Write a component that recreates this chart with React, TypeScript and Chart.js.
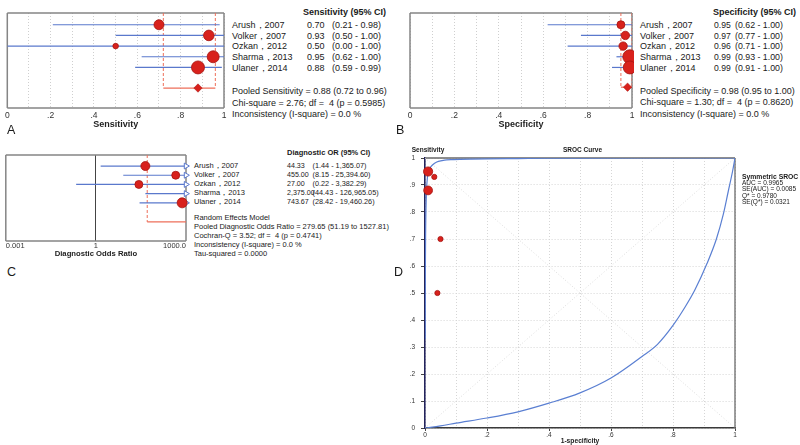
import React, { useEffect, useRef } from "react";
import { Chart, registerables } from "chart.js";
Chart.register(...registerables);

const FONT = "'Liberation Sans', Arial, Helvetica, sans-serif";
Chart.defaults.font.family = FONT;
Chart.defaults.color = "#333";

// ---------------- data ----------------
const studies = ["Arush，2007", "Volker，2007", "Ozkan，2012", "Sharma，2013", "Ulaner，2014"];
const rowPos = [1, 2, 3, 4, 5];

const sensEst = [0.7, 0.93, 0.5, 0.95, 0.88];
const sensLo = [0.21, 0.5, 0.0, 0.62, 0.59];
const sensHi = [0.98, 1.0, 1.0, 1.0, 0.99];
const sensWeightR = [5, 5.3, 2.8, 6, 6.5];
const sensPooled = [0.88, 0.72, 0.96];
const sensStats = [
  "Pooled Sensitivity = 0.88 (0.72 to 0.96)",
  "Chi-square = 2.76; df =  4 (p = 0.5985)",
  "Inconsistency (I-square) = 0.0 %",
];

const specEst = [0.95, 0.97, 0.96, 0.99, 0.99];
const specLo = [0.62, 0.77, 0.71, 0.93, 0.91];
const specHi = [1.0, 1.0, 1.0, 1.0, 1.0];
const specWeightR = [4, 4.2, 4.2, 7, 6.5];
const specPooled = [0.98, 0.95, 1.0];
const specStats = [
  "Pooled Specificity = 0.98 (0.95 to 1.00)",
  "Chi-square = 1.30; df =  4 (p = 0.8620)",
  "Inconsistency (I-square) = 0.0 %",
];

const dorEst = [44.33, 455.0, 27.0, 2375.0, 743.67];
const dorLo = [1.44, 8.15, 0.22, 44.43, 28.42];
const dorHi = [1365.07, 25394.6, 3382.29, 126965.05, 19460.26];
const dorWeightR = [4.5, 4, 4, 4, 5];
const dorPooled = [279.65, 51.19, 1527.81];
const dorStats = [
  "Random Effects Model",
  "Pooled Diagnostic Odds Ratio = 279.65 (51.19 to 1527.81)",
  "Cochran-Q = 3.52; df =  4 (p = 0.4741)",
  "Inconsistency (I-square) = 0.0 %",
  "Tau-squared = 0.0000",
];

const srocPointR = [2.6, 2.6, 2.6, 4.6, 4.4];
const srocUpperX = [0.0005, 0.001, 0.002, 0.004, 0.008, 0.016, 0.025, 0.038, 0.055, 0.07, 0.09, 0.113, 0.15, 0.2, 0.3, 0.4, 0.5, 0.7, 1.0];
const srocUpperY = [0.33, 0.55, 0.72, 0.85, 0.93, 0.962, 0.975, 0.985, 0.99, 0.993, 0.994, 0.995, 0.996, 0.997, 0.998, 0.999, 0.9995, 1, 1];
const srocLowerX = [0, 0.05, 0.1, 0.2, 0.3, 0.4, 0.5, 0.6, 0.7, 0.75, 0.8, 0.84, 0.87, 0.91, 0.94, 0.962, 0.978, 0.992, 1];
const srocLowerY = [0, 0.008, 0.018, 0.037, 0.06, 0.092, 0.13, 0.185, 0.265, 0.31, 0.38, 0.45, 0.51, 0.61, 0.7, 0.79, 0.875, 0.95, 1];
const srocStats = ["AUC = 0.9965", "SE(AUC) = 0.0085", "Q* = 0.9780", "SE(Q*) = 0.0321"];

// tick labels
const unitGrid = [0, 0.1, 0.2, 0.3, 0.4, 0.5, 0.6, 0.7, 0.8, 0.9, 1];
const forestTickValues = [0, 0.2, 0.4, 0.6, 0.8, 1];
const forestTickLabels = ["0", ".2", ".4", ".6", ".8", "1"];
const dorTickValues = [0.001, 1, 1000];
const dorTickLabels = ["0.001", "1", "1000.0"];
const srocYTickLabels = ["0", ".1", ".2", ".3", ".4", ".5", ".6", ".7", ".8", ".9", "1"];

// ---------------- styles ----------------
const BLUE = "#5a78cc";
const RED = "#d8211c";
const RED_EDGE = "#a51410";
const POOL = "#ee6f5a";
const FRAME = "#858585";
const CURVE = "#5a7fd2";

function labelFor(v: number, values: number[], labels: string[]) {
  for (let i = 0; i < values.length; i++) {
    if (Math.abs(v - values[i]) < 1e-6 * Math.max(1, Math.abs(values[i]))) return labels[i];
  }
  return "";
}

function framePlugin(sides: string, color: string, width: number) {
  return {
    id: "frame" + sides,
    beforeDatasetsDraw(chart: any) {
      const { left, right, top, bottom } = chart.chartArea;
      const ctx = chart.ctx;
      ctx.save();
      ctx.strokeStyle = color;
      ctx.lineWidth = width;
      ctx.beginPath();
      if (sides.includes("t")) { ctx.moveTo(left, top); ctx.lineTo(right, top); }
      if (sides.includes("r")) { ctx.moveTo(right, top); ctx.lineTo(right, bottom); }
      if (sides.includes("b")) { ctx.moveTo(right, bottom); ctx.lineTo(left, bottom); }
      if (sides.includes("l")) { ctx.moveTo(left, bottom); ctx.lineTo(left, top); }
      ctx.stroke();
      ctx.restore();
    },
  };
}

function forestConfig(p: any): any {
  const [yMin, yMax] = p.yRange;
  const datasets: any[] = [];
  datasets.push({
    data: p.est.map((v: number, i: number) => ({ x: v, y: rowPos[i] })),
    pointRadius: p.r, backgroundColor: RED, borderColor: RED_EDGE, borderWidth: 0.8,
    order: 0, clip: { left: 10, top: 10, bottom: 10, right: 2 },
  });
  if (p.diamond) {
    datasets.push({
      data: [{ x: p.pooled[0], y: p.pooledRow }], pointStyle: "rectRot", pointRadius: p.diamondR,
      backgroundColor: RED, borderColor: RED_EDGE, borderWidth: 0.5, order: 0,
    });
  }
  if (p.arrows) {
    datasets.push({
      data: p.hi.map((h: number, i: number) => (h > p.xMax ? { x: p.xMax, y: rowPos[i] } : null)).filter(Boolean),
      pointStyle: "triangle", rotation: 90, pointRadius: 3.4, backgroundColor: "#ffffff",
      borderColor: BLUE, borderWidth: 1, order: 1, clip: false,
    });
  }
  p.lo.forEach((lo: number, i: number) =>
    datasets.push({
      data: [{ x: lo, y: rowPos[i] }, { x: p.hi[i], y: rowPos[i] }], showLine: true,
      borderColor: BLUE, borderWidth: 1.2, pointRadius: 0, order: 2, clip: 0,
    })
  );
  [p.pooled[1], p.pooled[2]].forEach((v: number) =>
    datasets.push({
      data: [{ x: v, y: yMin }, { x: v, y: p.pooledRow }], showLine: true,
      borderColor: POOL, borderWidth: 1, borderDash: [3, 2], pointRadius: 0, order: 3, clip: 0,
    })
  );
  datasets.push({
    data: [{ x: p.pooled[1], y: p.pooledRow }, { x: p.pooled[2], y: p.pooledRow }], showLine: true,
    borderColor: POOL, borderWidth: 1.2, pointRadius: 0, order: 3, clip: 0,
  });
  return {
    type: "scatter",
    data: { datasets },
    options: {
      animation: false, responsive: false, maintainAspectRatio: false, events: [],
      layout: { padding: p.padding },
      plugins: { legend: { display: false }, tooltip: { enabled: false } },
      scales: {
        x: {
          type: p.xType, min: p.xMin, max: p.xMax,
          afterBuildTicks: (s: any) => { s.ticks = p.gridValues.map((v: number) => ({ value: v })); },
          afterFit: (s: any) => { s.height = p.axisH; },
          ticks: {
            autoSkip: false, maxRotation: 0, minRotation: 0, padding: p.tickPad, align: p.align || "center",
            font: { size: p.tickSize }, color: "#333",
            callback: (v: any) => labelFor(Number(v), p.tickValues, p.tickLabels),
          },
          grid: { drawTicks: false, color: p.gridColor, lineWidth: 1 },
          border: { display: false, dash: p.gridDash },
          title: {
            display: true, text: p.title, color: "#222",
            font: { size: p.titleSize, weight: "bold" }, padding: { top: 0, bottom: p.titlePad },
          },
        },
        y: { type: "linear", min: yMin, max: yMax, reverse: true, display: false },
      },
    },
    plugins: [framePlugin("trbl", FRAME, 1.5)],
  };
}

function srocConfig(): any {
  const pts = sensEst.map((s, i) => ({ x: +(1 - specEst[i]).toFixed(2), y: s }));
  const xLabels = forestTickLabels;
  return {
    type: "scatter",
    data: {
      datasets: [
        { data: pts, pointRadius: srocPointR, backgroundColor: RED, borderColor: RED_EDGE, borderWidth: 0.8, order: 0, clip: 8 },
        {
          data: srocUpperX.map((x, i) => ({ x, y: srocUpperY[i] })), showLine: true, cubicInterpolationMode: "monotone",
          borderColor: CURVE, borderWidth: 1.2, pointRadius: 0, order: 1,
        },
        {
          data: srocLowerX.map((x, i) => ({ x, y: srocLowerY[i] })), showLine: true, cubicInterpolationMode: "monotone",
          borderColor: CURVE, borderWidth: 1.2, pointRadius: 0, order: 1,
        },
        { data: [{ x: 0, y: 0 }, { x: 1, y: 1 }], showLine: true, borderColor: "#dcdcdc", borderDash: [1, 2], borderWidth: 1, pointRadius: 0, order: 2 },
        { data: [{ x: 0, y: 1 }, { x: 1, y: 0 }], showLine: true, borderColor: "#dcdcdc", borderDash: [1, 2], borderWidth: 1, pointRadius: 0, order: 2 },
      ],
    },
    options: {
      animation: false, responsive: false, maintainAspectRatio: false, events: [],
      layout: { padding: { left: 0, top: 18, right: 65, bottom: 0 } },
      plugins: { legend: { display: false }, tooltip: { enabled: false } },
      scales: {
        x: {
          type: "linear", min: 0, max: 1,
          afterBuildTicks: (s: any) => { s.ticks = unitGrid.map((v) => ({ value: v })); },
          afterFit: (s: any) => { s.height = 17; },
          ticks: {
            autoSkip: false, maxRotation: 0, minRotation: 0, padding: 0, font: { size: 6.5 }, color: "#333",
            callback: (v: any) => labelFor(Number(v), forestTickValues, xLabels),
          },
          grid: {
            color: "#d6d6d6", lineWidth: 1, tickLength: 3,
            tickColor: (c: any) => (c.tick && labelFor(c.tick.value, forestTickValues, xLabels) ? "#444" : "rgba(0,0,0,0)"),
          },
          border: { display: true, color: "#3a3a3a", width: 1.5, dash: [1, 2] },
          title: { display: true, text: "1-specificity", color: "#222", font: { size: 6.7, weight: "bold" }, padding: 0 },
        },
        y: {
          type: "linear", min: 0, max: 1,
          afterBuildTicks: (s: any) => { s.ticks = unitGrid.map((v) => ({ value: v })); },
          afterFit: (s: any) => { s.width = 25; },
          ticks: {
            autoSkip: false, padding: 6, font: { size: 6.5 }, color: "#333",
            callback: (v: any) => labelFor(Number(v), unitGrid, srocYTickLabels),
          },
          grid: { color: "#d6d6d6", lineWidth: 1, tickLength: 4, tickColor: "#444" },
          border: { display: true, color: "#23235c", width: 1.6, dash: [1, 2] },
        },
      },
    },
    plugins: [framePlugin("tr", "#6a6a6a", 1.3)],
  };
}

function ChartCanvas({ left, top, width, height, make }: any) {
  const ref = useRef<HTMLCanvasElement | null>(null);
  useEffect(() => {
    const chart = new Chart(ref.current as HTMLCanvasElement, make());
    return () => chart.destroy();
  }, []);
  return (
    <canvas
      ref={ref}
      width={width}
      height={height}
      style={{ position: "absolute", left, top, width, height }}
    />
  );
}

function T({ x, y, text, size = 9, bold = false, align = "left", color = "#1a1a1a" }: any) {
  const lh = 12;
  const tx = align === "center" ? "translateX(-50%)" : align === "right" ? "translateX(-100%)" : "none";
  return (
    <div
      style={{
        position: "absolute", left: x, top: y - lh / 2, lineHeight: lh + "px", height: lh,
        fontSize: size, fontWeight: bold ? "bold" : "normal", fontFamily: FONT, color,
        whiteSpace: "pre", transform: tx,
      }}
    >
      {text}
    </div>
  );
}

const fmt2 = (v: number) => v.toLocaleString("en-US", { minimumFractionDigits: 2, maximumFractionDigits: 2 });

export default function App() {
  const rowYA = [25, 35.5, 46, 56.7, 67.5];
  const rowYC = [166, 175, 183.8, 192.8, 201.8];
  return (
    <div style={{ position: "absolute", left: 0, top: 0, width: 800, height: 445, background: "#fff", overflow: "hidden" }}>
      <ChartCanvas
        left={0} top={0} width={232} height={132}
        make={() =>
          forestConfig({
            est: sensEst, lo: sensLo, hi: sensHi, r: sensWeightR, pooled: sensPooled,
            xType: "linear", xMin: 0, xMax: 1, gridValues: unitGrid, tickValues: forestTickValues, tickLabels: forestTickLabels,
            gridColor: "#cfcfcf", gridDash: [1, 2], yRange: [-0.1, 8.8], pooledRow: 6.93, diamond: true, diamondR: 4.2,
            padding: { left: 5, top: 13, right: 8, bottom: 0 }, axisH: 24, tickPad: 3, tickSize: 8.5,
            title: "Sensitivity", titleSize: 9, titlePad: 2,
          })
        }
      />
      <ChartCanvas
        left={400} top={0} width={240} height={132}
        make={() =>
          forestConfig({
            est: specEst, lo: specLo, hi: specHi, r: specWeightR, pooled: specPooled,
            xType: "linear", xMin: 0, xMax: 1, gridValues: unitGrid, tickValues: forestTickValues, tickLabels: forestTickLabels,
            gridColor: "#cfcfcf", gridDash: [1, 2], yRange: [-0.1, 8.8], pooledRow: 6.85, diamond: true, diamondR: 4.2,
            padding: { left: 10, top: 13, right: 8, bottom: 0 }, axisH: 24, tickPad: 3, tickSize: 8.5,
            title: "Specificity", titleSize: 9, titlePad: 2,
          })
        }
      />
      <ChartCanvas
        left={0} top={140} width={194} height={120}
        make={() =>
          forestConfig({
            est: dorEst, lo: dorLo, hi: dorHi, r: dorWeightR, pooled: dorPooled,
            xType: "logarithmic", xMin: 0.001, xMax: 1000, gridValues: dorTickValues, tickValues: dorTickValues, tickLabels: dorTickLabels,
            gridColor: (c: any) => (c.tick && Math.abs(c.tick.value - 1) < 1e-9 ? "#444" : "rgba(0,0,0,0)"), gridDash: [],
            yRange: [-0.2, 9.15], pooledRow: 7.08, diamond: false, arrows: true, align: "inner",
            padding: { left: 4, top: 15, right: 8, bottom: 0 }, axisH: 19, tickPad: 0, tickSize: 7.5,
            title: "Diagnostic Odds Ratio", titleSize: 7.7, titlePad: 1,
          })
        }
      />
      <ChartCanvas left={400} top={140} width={400} height={305} make={srocConfig} />

      {/* Panel A text */}
      <T x={303} y={11.5} text="Sensitivity (95% CI)" bold size={9} />
      {studies.map((s, i) => (
        <React.Fragment key={"a" + i}>
          <T x={232} y={rowYA[i]} text={s} />
          <T x={307} y={rowYA[i]} text={sensEst[i].toFixed(2)} />
          <T x={332} y={rowYA[i]} text={`(${sensLo[i].toFixed(2)} - ${sensHi[i].toFixed(2)})`} />
        </React.Fragment>
      ))}
      {sensStats.map((s, i) => <T key={"as" + i} x={232} y={91 + i * 11.6} text={s} />)}
      <T x={7} y={130} text="A" size={12.5} />

      {/* Panel B text */}
      <T x={713} y={11.5} text="Specificity (95% CI)" bold size={9} />
      {studies.map((s, i) => (
        <React.Fragment key={"b" + i}>
          <T x={640} y={rowYA[i]} text={s} />
          <T x={714} y={rowYA[i]} text={specEst[i].toFixed(2)} size={8.6} />
          <T x={735} y={rowYA[i]} text={`(${specLo[i].toFixed(2)} - ${specHi[i].toFixed(2)})`} size={8.8} />
        </React.Fragment>
      ))}
      {specStats.map((s, i) => <T key={"bs" + i} x={640} y={91 + i * 11.3} text={s} />)}
      <T x={396} y={130} text="B" size={12.5} />

      {/* Panel C text */}
      <T x={287} y={153.3} text="Diagnostic OR (95% CI)" bold size={7.5} />
      {studies.map((s, i) => (
        <React.Fragment key={"c" + i}>
          <T x={194} y={rowYC[i]} text={s} size={7.5} />
          <T x={287} y={rowYC[i]} text={fmt2(dorEst[i])} size={7.1} />
          <T x={312.5} y={rowYC[i]} text={`(${fmt2(dorLo[i])} - ${fmt2(dorHi[i])})`} size={7.3} />
        </React.Fragment>
      ))}
      {dorStats.map((s, i) => <T key={"cs" + i} x={194} y={218.3 + i * 8.8} text={s} size={7.5} />)}
      <T x={7} y={272} text="C" size={12.5} />

      {/* Panel D text */}
      <T x={428} y={150} text="Sensitivity" bold size={6.5} align="center" />
      <T x={582.5} y={150} text="SROC Curve" bold size={6.5} align="center" />
      <T x={742} y={176.5} text="Symmetric SROC" bold size={6.8} />
      {srocStats.map((s, i) => <T key={"ds" + i} x={742} y={182.8 + i * 6.4} text={s} size={6.5} />)}
      <T x={394} y={272} text="D" size={12.5} />
    </div>
  );
}
